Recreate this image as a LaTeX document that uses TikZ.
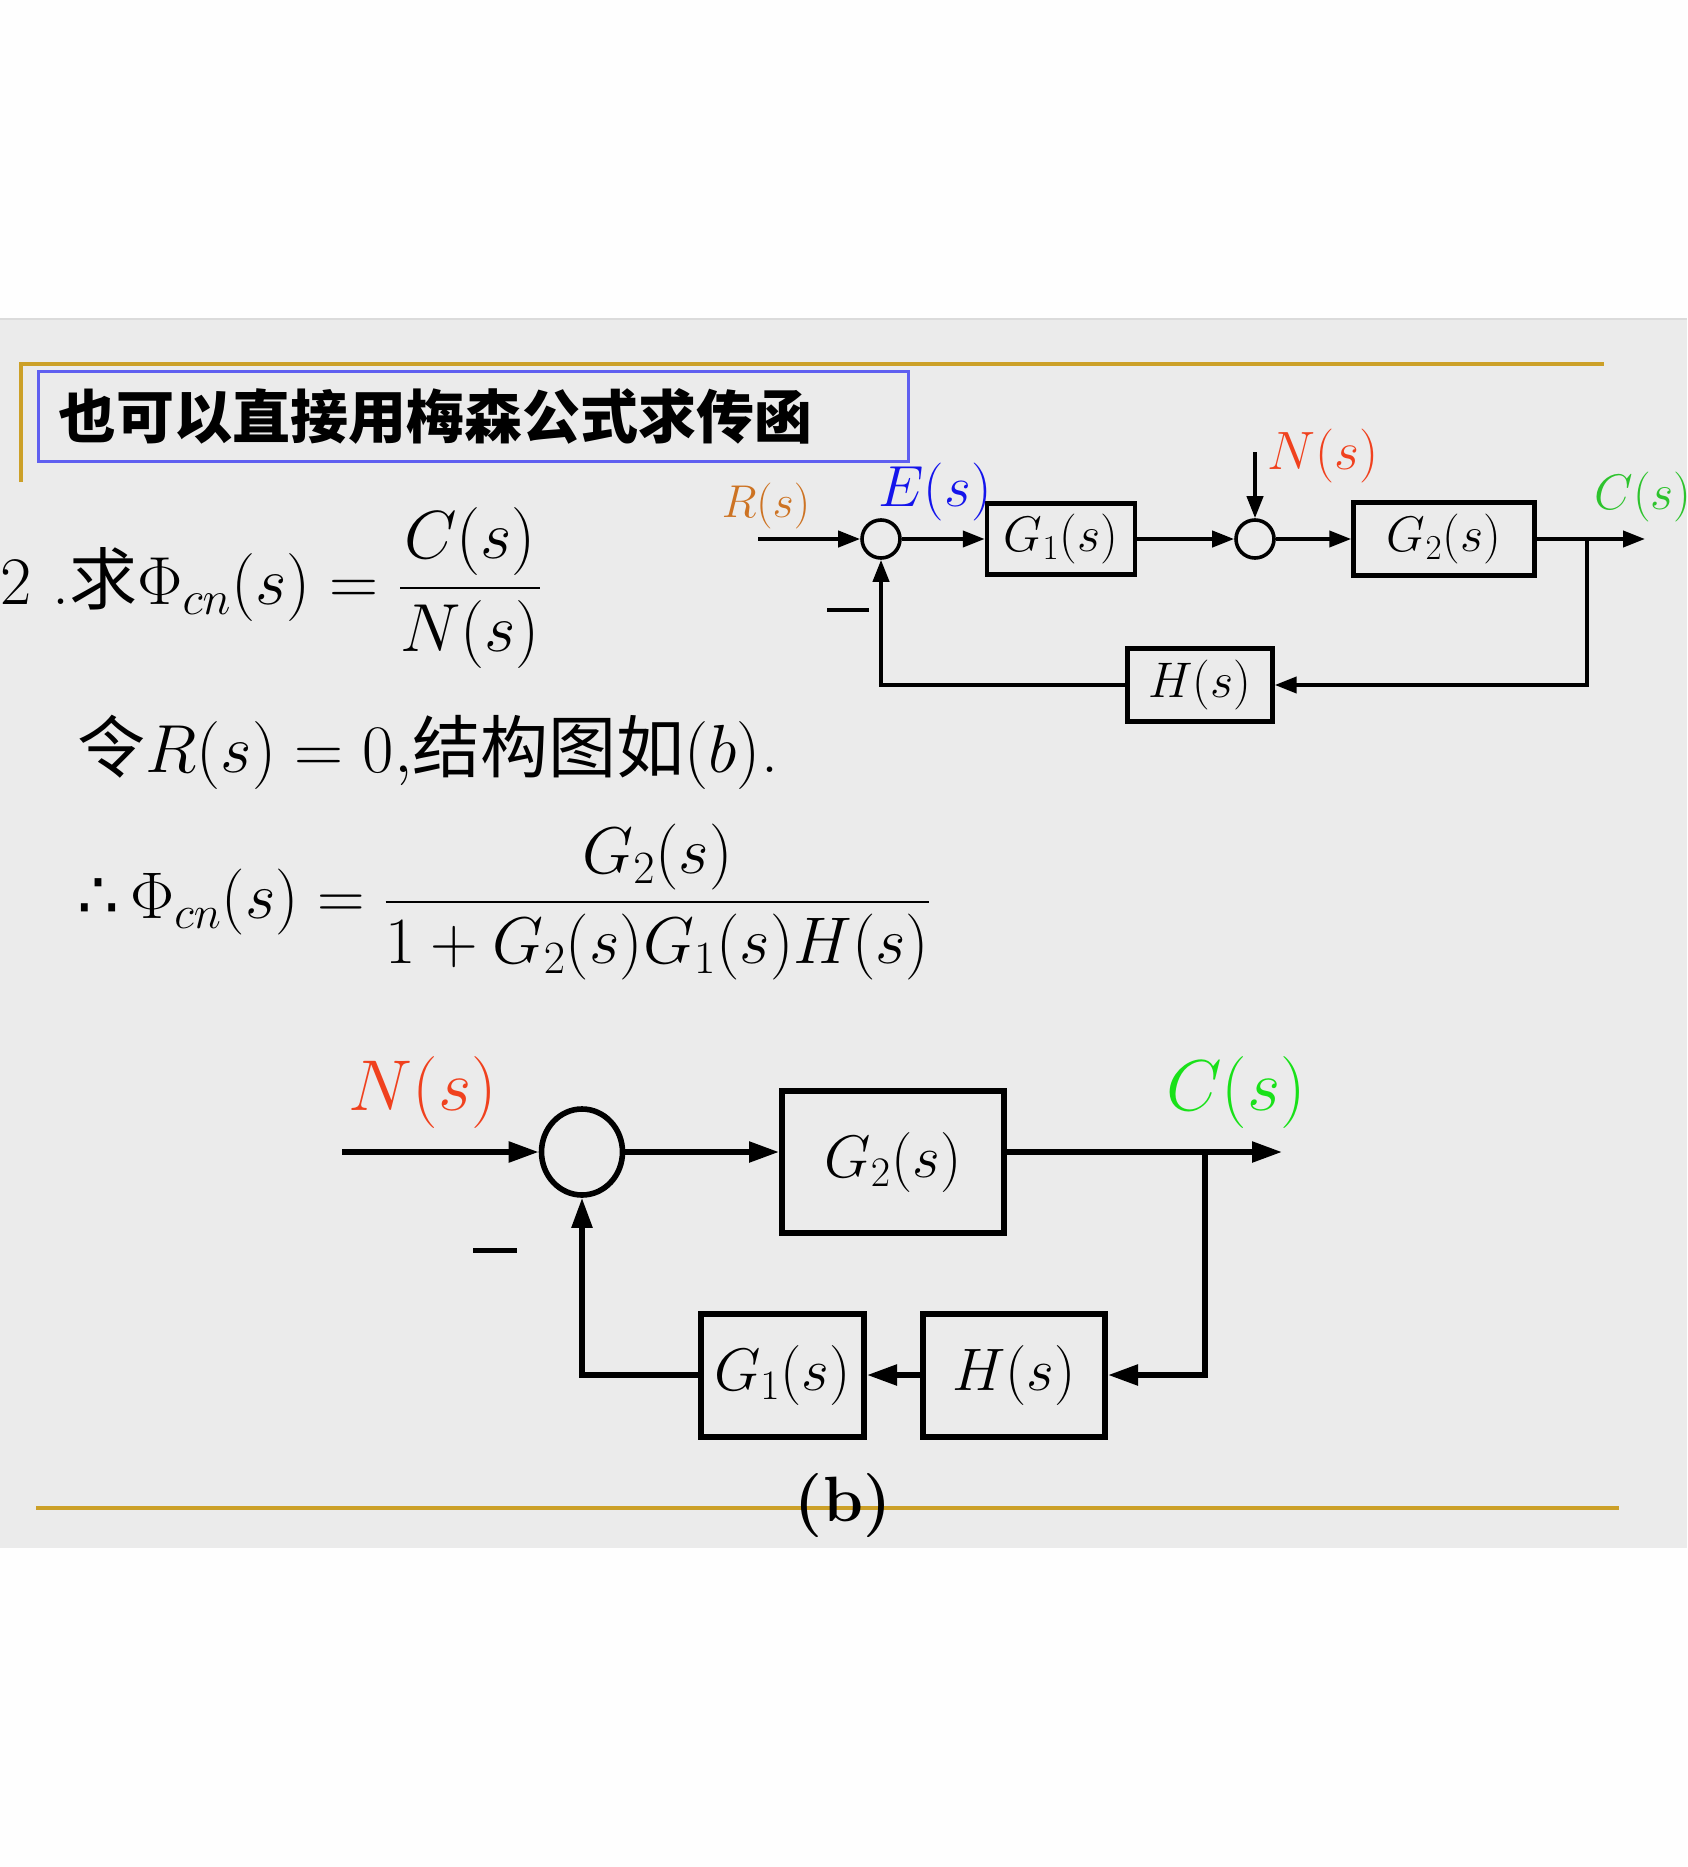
\RequirePackage{fix-cm}
\documentclass[tikz,border=0pt]{standalone}
\usepackage{amsmath}
\usepackage{fontspec}
\newfontfamily\cjk{Noto Sans CJK SC}
\newfontfamily\djs{DejaVu Sans}
\usetikzlibrary{arrows.meta,shapes.geometric}
\definecolor{bgray}{RGB}{235,235,235}
\definecolor{gold}{RGB}{204,160,40}
\definecolor{boxblue}{RGB}{95,95,240}
\definecolor{rorange}{RGB}{205,115,35}
\definecolor{eblue}{RGB}{20,20,235}
\definecolor{nred}{RGB}{240,65,30}
\definecolor{cgreen}{RGB}{45,195,45}
\definecolor{cgreenb}{RGB}{25,225,25}
\newcommand{\fs}[1]{\fontsize{#1}{#1}\selectfont}
\tikzset{
  tline/.style={line width=2pt},
  bline/.style={line width=2.7pt},
  arrA/.style={-{Triangle[length=11pt,width=8pt]}},
  arrB/.style={-{Triangle[length=15pt,width=10pt]}},
  sumA/.style={circle,draw,line width=1.8pt,minimum size=19pt,inner sep=0pt},
  sumB/.style={ellipse,draw,line width=2.8pt,minimum width=40.5pt,minimum height=43pt,inner sep=0pt},
  tbox/.style={rectangle,draw,line width=2.2pt,inner sep=0pt,font=\fs{25}},
  bbox/.style={rectangle,draw,line width=3pt,inner sep=0pt,font=\fs{30}},
  lbl/.style={inner sep=0pt},
}
\begin{document}
\begin{tikzpicture}[x=0.5pt,y=-0.5pt]
\useasboundingbox (0,0) rectangle (1687,1867);
\clip (0,0) rectangle (1687,1867);
\fill[white!99.5!black] (0,0) rectangle (1687,1867);
\fill[bgray] (0,319) rectangle (1687,1548);
\draw[black!14,line width=1pt] (0,319) -- (1687,319);
% frame lines
\draw[gold,line width=1.7pt] (21,482) -- (21,364) -- (1604,364);
\draw[gold,line width=1.7pt] (36,1508) -- (1619,1508);
% title
\draw[boxblue,line width=1.5pt] (38,371) rectangle (908,461);
\node[lbl,anchor=west,font=\cjk\bfseries\fs{29}] (title) at (58,416) {也可以直接用梅森公式求传函};
% equations
\node[lbl,anchor=west,font=\fs{34}] (eq1) at (0,588) {2 .{\cjk 求}$\Phi_{cn}(s)=\dfrac{C(s)}{N(s)}$};
\node[lbl,anchor=west,font=\fs{34}] (eq2) at (77,752) {{\cjk 令}$R(s)=0,${\cjk 结构图如}$(b)$.};
\node[lbl,anchor=west,font=\fs{33}] (eq3) at (77,902) {{\djs ∴}$\,\Phi_{cn}(s)=\dfrac{G_2(s)}{1+G_2(s)G_1(s)H(s)}$};
% ---------- top diagram ----------
\node[sumA] (s1) at (881,539) {};
\node[tbox,minimum width=74pt,minimum height=35.5pt] (g1) at (1061,539) {$G_1(s)$};
\node[sumA] (s2) at (1255,539) {};
\node[tbox,minimum width=90.5pt,minimum height=36.5pt] (g2) at (1444,539) {$G_2(s)$};
\node[tbox,minimum width=72.5pt,minimum height=36.5pt] (h) at (1200,685) {$H(s)$};
\coordinate (rin) at (758,539);
\coordinate (nin) at (1255,452);
\coordinate (br1) at (1587,539);
\coordinate (cout) at (1645,539);
\draw[tline,arrA] (rin) -- (s1);
\draw[tline,arrA] (s1) -- (g1);
\draw[tline,arrA] (g1) -- (s2);
\draw[tline,arrA] (nin) -- (s2);
\draw[tline,arrA] (s2) -- (g2);
\draw[tline,arrA] (g2) -- (cout);
\draw[tline,arrA] (br1) |- (h.east);
\draw[tline,arrA] (h.west) -| (s1.south);
\node[lbl] (m1) at (848,610) {\rule{21pt}{1.8pt}};
\node[lbl,text=rorange,font=\fs{23}] (lr) at (766,506) {$R(s)$};
\node[lbl,text=eblue,font=\fs{29}] (le) at (935,492) {$E(s)$};
\node[lbl,text=nred,font=\fs{27}] (ln) at (1323,456) {$N(s)$};
\node[lbl,anchor=west,text=cgreen,font=\fs{25}] (lc) at (1594,497) {$C(s)$};
% ---------- bottom diagram ----------
\node[sumB] (s3) at (582,1152) {};
\node[bbox,minimum width=111pt,minimum height=71pt] (g2b) at (893,1162) {$G_2(s)$};
\node[bbox,minimum width=91pt,minimum height=61.5pt] (hb) at (1014,1375) {$H(s)$};
\node[bbox,minimum width=81.5pt,minimum height=61.5pt] (g1b) at (782.5,1375) {$G_1(s)$};
\coordinate (nin2) at (342,1152);
\coordinate (br2) at (1205,1152);
\coordinate (cout2) at (1282,1152);
\draw[bline,arrB] (nin2) -- (s3);
\draw[bline,arrB] (s3.east) -- (s3.east -| g2b.west);
\draw[bline,arrB] (s3.east -| g2b.east) -- (cout2);
\draw[bline,arrB] (br2) |- (hb.east);
\draw[bline,arrB] (hb.west) -- (g1b.east);
\draw[bline,arrB] (g1b.west) -| (s3.south);
\node[lbl] (m2) at (495,1250) {\rule{22pt}{2.5pt}};
\node[lbl,text=nred,font=\fs{36}] (lnb) at (423,1092) {$N(s)$};
\node[lbl,text=cgreenb,font=\fs{36}] (lcb) at (1236,1092) {$C(s)$};
\node[lbl,font=\bfseries\fs{32}] (cap) at (843,1506) {(b)};
\end{tikzpicture}
\end{document}
